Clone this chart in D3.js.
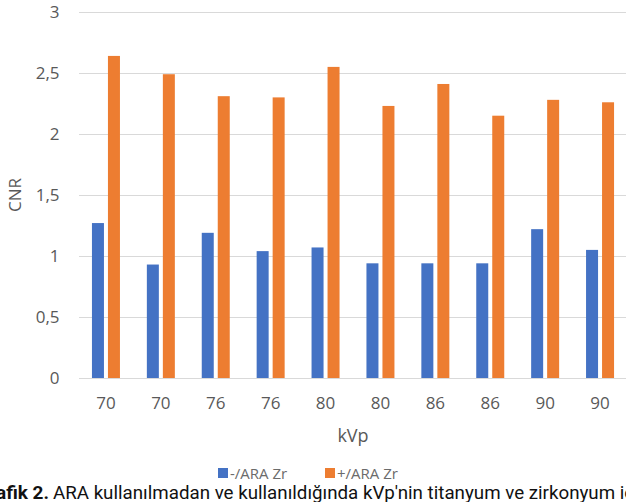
<!DOCTYPE html>
<html>
<head>
<meta charset="utf-8">
<script src="https://cdn.jsdelivr.net/npm/d3@7"></script>
<style>
  html, body { margin: 0; padding: 0; background: #ffffff; overflow: hidden; }
  svg { display: block; }
</style>
</head>
<body>
<svg id="chart" width="626" height="502"></svg>
<script>
// CNR values per kVp setting, without and with ARA (zirconium)
const categories = ["70", "70", "76", "76", "80", "80", "86", "86", "90", "90"];
const seriesNames = ["-/ARA Zr", "+/ARA Zr"];
const withoutARA = [1.27, 0.93, 1.19, 1.04, 1.07, 0.94, 0.94, 0.94, 1.22, 1.05];
const withARA = [2.64, 2.49, 2.31, 2.30, 2.55, 2.23, 2.41, 2.15, 2.28, 2.26];
const yTicks = [0, 0.5, 1, 1.5, 2, 2.5, 3];
const seriesColors = ["#4472C4", "#ED7D31"];

const series = [withoutARA, withARA];
const rows = categories.map((c, i) => ({ i, label: c, values: series.map(s => s[i]) }));

const svg = d3.select("#chart");
const W = 626, H = 502;
const plot = { left: 78.5, right: 627.5, top: 12, bottom: 378 };

const x0 = d3.scaleBand()
  .domain(d3.range(categories.length))
  .range([plot.left, plot.right])
  .paddingInner(0.49)
  .paddingOuter(0.245);

const x1 = d3.scaleBand()
  .domain(d3.range(seriesNames.length))
  .range([0, x0.bandwidth()])
  .paddingInner(0.25);

const y = d3.scaleLinear().domain([0, 3]).range([plot.bottom, plot.top]);

const fmt = v => String(v).replace(".", ",");

// Horizontal gridlines and y tick labels
const yAxis = svg.append("g")
  .attr("transform", `translate(${plot.left},0)`)
  .call(d3.axisLeft(y).tickValues(yTicks).tickFormat(fmt)
    .tickSize(-(W - plot.left)).tickPadding(19));
yAxis.select(".domain").remove();
yAxis.selectAll(".tick line").attr("stroke", "#d9d9d9").attr("stroke-width", 1)
  .attr("shape-rendering", "crispEdges");
yAxis.selectAll(".tick text")
  .attr("fill", "#595959")
  .style("font-family", "'Open Sans', sans-serif")
  .style("font-size", "17px");

// Bars
const groups = svg.append("g").selectAll("g")
  .data(rows).join("g")
  .attr("transform", d => `translate(${x0(d.i)},0)`);

groups.selectAll("rect")
  .data(d => d.values.map((v, k) => ({ k, v })))
  .join("rect")
  .attr("x", d => x1(d.k))
  .attr("width", x1.bandwidth())
  .attr("y", d => y(d.v))
  .attr("height", d => y(0) - y(d.v))
  .attr("fill", d => seriesColors[d.k]);

// Category labels along the bottom
const xAxis = svg.append("g")
  .attr("transform", `translate(0,${plot.bottom})`)
  .call(d3.axisBottom(x0).tickFormat(i => categories[i]).tickSize(0).tickPadding(19));
xAxis.select(".domain").remove();
xAxis.selectAll(".tick text")
  .attr("fill", "#595959")
  .style("font-family", "'Open Sans', sans-serif")
  .style("font-size", "17px");

// Axis titles
svg.append("text")
  .attr("x", (plot.left + plot.right) / 2)
  .attr("y", 442)
  .attr("text-anchor", "middle")
  .attr("fill", "#595959")
  .style("font-family", "'Open Sans', sans-serif")
  .style("font-size", "18px")
  .text("kVp");

svg.append("text")
  .attr("transform", `translate(21,${(plot.top + plot.bottom) / 2}) rotate(-90)`)
  .attr("text-anchor", "middle")
  .attr("fill", "#595959")
  .style("font-family", "'Open Sans', sans-serif")
  .style("font-size", "17px")
  .text("CNR");

// Legend
const legend = svg.append("g").attr("transform", "translate(218,468)");
const items = legend.selectAll("g").data(seriesNames).join("g")
  .attr("transform", (d, k) => `translate(${k * 107},0)`);
items.append("rect")
  .attr("width", 10).attr("height", 10)
  .attr("fill", (d, k) => seriesColors[k]);
items.append("text")
  .attr("x", 12).attr("y", 11)
  .attr("fill", "#6b6b6b")
  .style("font-family", "'Open Sans', sans-serif")
  .style("font-size", "15px")
  .text(d => d);

// Figure caption
const caption = svg.append("g").style("font-family", "Roboto, sans-serif").style("font-size", "18px");
caption.append("text")
  .attr("x", 49).attr("y", 499)
  .attr("text-anchor", "end")
  .attr("fill", "#111")
  .style("font-weight", "bold")
  .style("font-size", "19px")
  .text("Grafik 2.");
caption.append("text")
  .attr("x", 53).attr("y", 499)
  .attr("fill", "#111")
  .attr("textLength", 596)
  .attr("lengthAdjust", "spacingAndGlyphs")
  .text("ARA kullanılmadan ve kullanıldığında kVp'nin titanyum ve zirkonyum için");
</script>
</body>
</html>
